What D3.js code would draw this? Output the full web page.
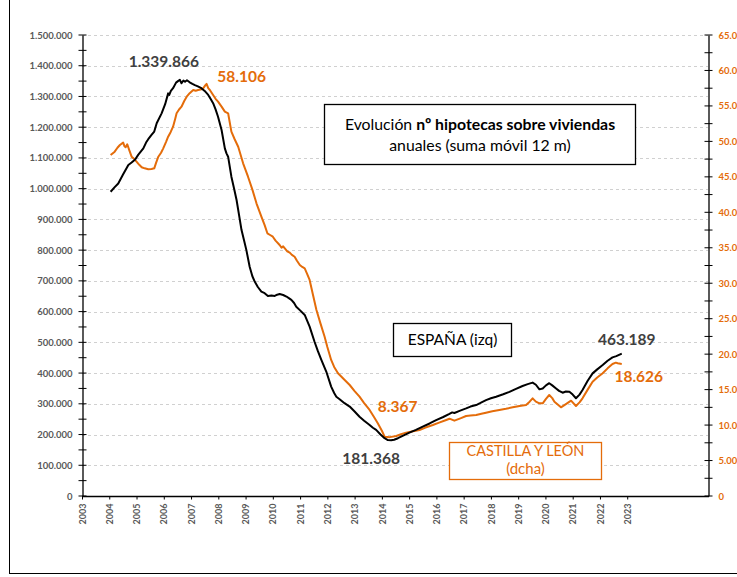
<!DOCTYPE html>
<html><head><meta charset="utf-8">
<script src="https://cdn.jsdelivr.net/npm/d3@7"></script>
<style>
html,body{margin:0;padding:0;background:#fff;}
svg{display:block;font-family:Lato,"Open Sans",sans-serif;}
</style></head>
<body><svg id="chart" width="737" height="577"></svg>
<script>
// ---- DATA (decimal year, value) ----
const spainSeries = [[2004.05,990000],[2004.2,1005000],[2004.33,1017000],[2004.5,1045000],[2004.7,1077000],[2004.82,1085000],[2004.95,1095000],[2005.06,1110000],[2005.25,1131000],[2005.35,1150000],[2005.43,1161000],[2005.55,1175000],[2005.65,1186000],[2005.74,1213000],[2005.92,1245000],[2006.05,1275000],[2006.16,1310000],[2006.2,1305000],[2006.26,1318000],[2006.34,1327000],[2006.45,1345000],[2006.52,1350000],[2006.59,1354000],[2006.65,1343000],[2006.72,1352000],[2006.78,1348000],[2006.85,1353000],[2006.95,1346000],[2007.05,1341000],[2007.14,1337000],[2007.25,1333000],[2007.38,1327000],[2007.5,1318000],[2007.63,1305000],[2007.72,1292000],[2007.81,1278000],[2007.9,1258000],[2007.99,1234000],[2008.12,1191000],[2008.24,1131000],[2008.3,1115000],[2008.36,1104000],[2008.48,1039000],[2008.58,1000000],[2008.67,963000],[2008.76,915000],[2008.85,866000],[2008.95,830000],[2009.03,800000],[2009.15,746000],[2009.25,715000],[2009.34,697000],[2009.45,680000],[2009.58,665000],[2009.7,660000],[2009.82,651000],[2009.95,652000],[2010.07,651000],[2010.16,655000],[2010.25,657000],[2010.38,654000],[2010.5,649000],[2010.6,643000],[2010.68,638000],[2010.78,628000],[2010.86,616000],[2011.0,604000],[2011.17,589000],[2011.35,551000],[2011.53,502000],[2011.65,472000],[2011.78,443000],[2011.96,405000],[2012.14,356000],[2012.25,335000],[2012.33,323000],[2012.45,315000],[2012.63,302000],[2012.82,291000],[2013.0,275000],[2013.18,258000],[2013.35,245000],[2013.55,231000],[2013.67,222000],[2013.79,215000],[2013.95,200000],[2014.1,188000],[2014.22,182000],[2014.34,181368],[2014.45,183000],[2014.59,188000],[2014.8,197000],[2015.01,206000],[2015.25,215000],[2015.5,226000],[2015.75,236000],[2015.99,247000],[2016.25,257000],[2016.48,267000],[2016.58,272000],[2016.66,270000],[2016.85,277000],[2017.09,285000],[2017.25,291000],[2017.46,296000],[2017.6,302000],[2017.82,312000],[2018.0,318000],[2018.19,323000],[2018.45,331000],[2018.68,339000],[2018.9,348000],[2019.16,358000],[2019.35,364000],[2019.53,369000],[2019.65,362000],[2019.78,347000],[2019.9,350000],[2020.02,360000],[2020.14,367000],[2020.25,360000],[2020.39,350000],[2020.5,342000],[2020.63,336000],[2020.75,340000],[2020.88,339000],[2021.0,330000],[2021.12,318000],[2021.25,330000],[2021.36,345000],[2021.55,375000],[2021.73,399000],[2021.9,412000],[2022.1,426000],[2022.28,440000],[2022.46,451000],[2022.6,455000],[2022.8,463189]];

const cylSeries = [[2004.05,48080],[2004.12,48300],[2004.2,48550],[2004.3,49100],[2004.39,49490],[2004.51,49820],[2004.56,49300],[2004.6,49170],[2004.66,49590],[2004.74,48700],[2004.82,47840],[2004.92,47500],[2005.0,47140],[2005.1,46700],[2005.19,46350],[2005.3,46200],[2005.43,46070],[2005.55,46100],[2005.65,46200],[2005.72,47000],[2005.8,47840],[2005.9,48400],[2005.98,49020],[2006.08,49900],[2006.16,50660],[2006.25,51300],[2006.34,52070],[2006.42,53200],[2006.47,53960],[2006.56,54500],[2006.65,54890],[2006.75,55700],[2006.84,56300],[2006.95,56800],[2007.08,57250],[2007.17,57150],[2007.26,57250],[2007.35,57300],[2007.45,57490],[2007.52,57900],[2007.57,58106],[2007.63,57500],[2007.69,57250],[2007.81,56540],[2007.9,56000],[2007.99,55600],[2008.12,54900],[2008.24,54190],[2008.36,53960],[2008.48,51370],[2008.6,50300],[2008.73,49250],[2008.91,46910],[2009.09,45020],[2009.25,43200],[2009.4,41270],[2009.58,39380],[2009.7,38200],[2009.8,37040],[2009.9,36800],[2010.0,36560],[2010.1,36000],[2010.25,35390],[2010.32,35000],[2010.38,35200],[2010.44,34920],[2010.53,34500],[2010.62,34310],[2010.7,34000],[2010.8,33740],[2010.88,33200],[2010.99,32570],[2011.08,32300],[2011.17,32100],[2011.25,31400],[2011.35,30460],[2011.47,28400],[2011.6,26230],[2011.75,24300],[2011.9,22460],[2012.0,21000],[2012.14,19180],[2012.25,18200],[2012.39,17300],[2012.6,16500],[2012.82,15650],[2013.0,14800],[2013.18,14000],[2013.35,13100],[2013.55,12130],[2013.7,11200],[2013.85,10250],[2014.0,9200],[2014.1,8367],[2014.29,8300],[2014.53,8460],[2014.7,8700],[2014.89,8930],[2015.1,9100],[2015.38,9310],[2015.6,9650],[2015.87,10010],[2016.1,10350],[2016.36,10720],[2016.48,10900],[2016.66,10620],[2016.88,10950],[2017.09,11280],[2017.25,11350],[2017.46,11420],[2017.65,11600],[2017.82,11750],[2018.05,11950],[2018.31,12130],[2018.55,12300],[2018.8,12500],[2019.05,12700],[2019.29,12830],[2019.42,13300],[2019.53,13770],[2019.65,13300],[2019.78,13070],[2019.9,13070],[2020.02,13700],[2020.14,14240],[2020.25,13800],[2020.33,13300],[2020.45,12900],[2020.57,12500],[2020.75,12950],[2020.94,13440],[2021.12,12690],[2021.25,13200],[2021.36,13770],[2021.55,15000],[2021.73,16120],[2021.9,16700],[2022.1,17300],[2022.28,18000],[2022.46,18610],[2022.58,18800],[2022.65,18710],[2022.8,18626]];

const yearTicks = d3.range(2003, 2024);
const leftTicks = d3.range(0, 1500001, 100000);
const rightTicks = d3.range(0, 65001, 5000);
const titleLine1 = ["Evolución ", "nº hipotecas sobre viviendas"];
const titleLine2 = "anuales (suma móvil 12 m)";
const spainLabel = "ESPAÑA (izq)";
const cylLabel = ["CASTILLA Y LEÓN", "(dcha)"];
const annotations = [
  {text:"1.339.866", x:2006.7, y:1339866, dx:-19, dy:-17, side:"L"},
  {text:"58.106", x:2007.57, y:58106, dx:35, dy:-2, side:"R"},
  {text:"8.367", x:2014.1, y:8367, dx:13, dy:-25, side:"R"},
  {text:"181.368", x:2014.34, y:181368, dx:-20, dy:24, side:"L"},
  {text:"463.189", x:2022.8, y:463189, dx:5, dy:-9, side:"L"},
  {text:"18.626", x:2022.8, y:18626, dx:17, dy:18, side:"R"}
];

// ---- LAYOUT ----
const orange = "#E46C0A", gray = "#595959", dark = "#404040";
const svg = d3.select("#chart");
const x = d3.scaleLinear().domain([2003, 2026]).range([82, 709]);
const yL = d3.scaleLinear().domain([0, 1500000]).range([496, 35]);
const yR = d3.scaleLinear().domain([0, 65000]).range([496, 35]);
const fmt = d3.formatLocale({decimal:",", thousands:".", grouping:[3], currency:["",""]}).format(",d");

// frame
svg.append("rect").attr("x",9.5).attr("y",-5).attr("width",800).attr("height",578.5)
  .attr("fill","none").attr("stroke","#000").attr("stroke-width",1);

// gridlines
svg.append("g").selectAll("line").data(leftTicks.filter(d=>d>0)).join("line")
  .attr("x1",82).attr("x2",708).attr("y1",d=>Math.round(yL(d))+0.5).attr("y2",d=>Math.round(yL(d))+0.5)
  .attr("stroke","#D0D0D0").attr("stroke-width",1).attr("stroke-dasharray","3,3");

// left axis
const gL = svg.append("g").attr("transform","translate(82.5,0)");
gL.call(d3.axisLeft(yL).tickValues(leftTicks).tickFormat(fmt).tickSize(0).tickPadding(10));
gL.select(".domain").attr("stroke","#000").attr("stroke-width",1.3);
gL.selectAll("text").attr("fill",gray).attr("font-size","9.5px").attr("font-weight","bold").attr("font-family","Lato");
gL.append("g").selectAll("line").data(d3.range(0,1500001,50000)).join("line")
  .attr("x1",-4).attr("x2",4).attr("y1",d=>yL(d)).attr("y2",d=>yL(d)).attr("stroke","#000").attr("stroke-width",1);

// right axis
const gR = svg.append("g").attr("transform","translate(708.5,0)");
gR.call(d3.axisRight(yR).tickValues(rightTicks).tickFormat(fmt).tickSize(0).tickPadding(10));
gR.select(".domain").attr("stroke","#000").attr("stroke-width",1.3);
gR.selectAll("text").attr("fill",orange).attr("font-size","9.5px").attr("font-weight","bold").attr("font-family","Lato");
gR.append("g").selectAll("line").data(d3.range(0,65001,2500)).join("line")
  .attr("x1",-4).attr("x2",4).attr("y1",d=>yR(d)).attr("y2",d=>yR(d)).attr("stroke","#000").attr("stroke-width",1);

// x axis
const gX = svg.append("g").attr("transform","translate(0,496.5)");
gX.call(d3.axisBottom(x).tickValues(yearTicks).tickFormat(d3.format("d")).tickSize(3).tickSizeOuter(0));
gX.select(".domain").attr("stroke","#000").attr("stroke-width",1.3).attr("d","M82,0H709");
gX.selectAll(".tick line").attr("stroke","#000");
gX.selectAll("text").attr("fill",gray).attr("font-size","9px").attr("font-weight","bold").attr("font-family","Lato")
  .attr("transform","rotate(-90)").attr("text-anchor","end").attr("x",-7).attr("y",0).attr("dy","0.35em");

// lines
const lineL = d3.line().x(d=>x(d[0])).y(d=>yL(d[1]));
const lineR = d3.line().x(d=>x(d[0])).y(d=>yR(d[1]));
svg.append("path").datum(cylSeries).attr("d",lineR).attr("fill","none").attr("stroke",orange).attr("stroke-width",2).attr("stroke-linejoin","round");
svg.append("path").datum(spainSeries).attr("d",lineL).attr("fill","none").attr("stroke","#000").attr("stroke-width",2).attr("stroke-linejoin","round");

// title box
svg.append("rect").attr("x",324.5).attr("y",104.5).attr("width",311).attr("height",60)
  .attr("fill","#fff").attr("stroke","#000").attr("stroke-width",1.3);
const t1 = svg.append("text").attr("x",480).attr("y",130).attr("text-anchor","middle")
  .attr("font-size","15.8px").attr("fill","#000");
t1.append("tspan").text(titleLine1[0]);
t1.append("tspan").attr("font-weight","bold").text(titleLine1[1]);
svg.append("text").attr("x",480).attr("y",151).attr("text-anchor","middle")
  .attr("font-size","15.8px").attr("fill","#000").text(titleLine2);

// ESPAÑA box
svg.append("rect").attr("x",393.5).attr("y",323.5).attr("width",118).attr("height",33)
  .attr("fill","#fff").attr("stroke","#000").attr("stroke-width",1.3);
svg.append("text").attr("x",452.5).attr("y",345).attr("text-anchor","middle")
  .attr("font-size","15.5px").attr("fill","#000").text(spainLabel);

// CyL box
svg.append("rect").attr("x",449.5).attr("y",442.5).attr("width",152).attr("height",37)
  .attr("fill","#fff").attr("stroke",orange).attr("stroke-width",1.3);
svg.append("text").attr("x",525.5).attr("y",456).attr("text-anchor","middle")
  .attr("font-size","14.5px").attr("fill",orange).text(cylLabel[0]);
svg.append("text").attr("x",525.5).attr("y",474).attr("text-anchor","middle")
  .attr("font-size","15px").attr("fill",orange).text(cylLabel[1]);

// annotations
svg.append("g").selectAll("text").data(annotations).join("text")
  .attr("x",d=>x(d.x)+d.dx).attr("y",d=>(d.side==="L"?yL(d.y):yR(d.y))+d.dy)
  .attr("text-anchor","middle").attr("font-size","15.5px").attr("font-weight","bold")
  .attr("fill",d=>d.side==="L"?dark:orange).text(d=>d.text);
</script></body></html>
